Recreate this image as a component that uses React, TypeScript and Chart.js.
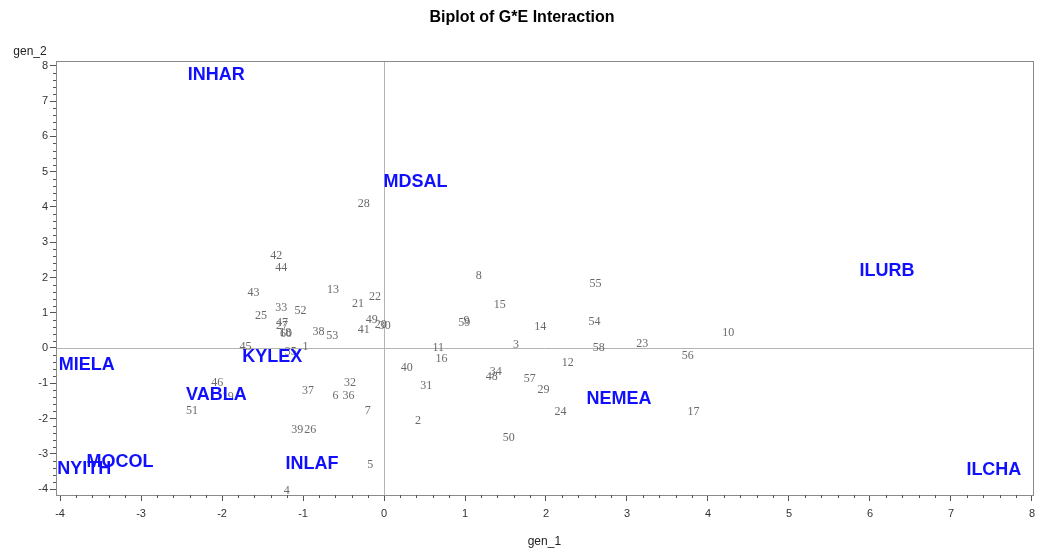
import React, { useEffect, useRef } from "react";
import { Chart, registerables } from "chart.js";

Chart.register(...registerables);

const GEN_LABELS = ["1","2","3","4","5","6","7","8","9","10","11","12","13","14","15","16","17","18","19","20","21","22","23","24","25","26","27","28","29","30","31","32","33","34","35","36","37","38","39","40","41","42","43","44","45","46","47","48","49","50","51","52","53","54","55","56","57","58","59","60"];
const GEN_X = [-0.97,0.42,1.63,-1.20,-0.17,-0.60,-0.20,1.17,1.02,4.25,0.67,2.27,-0.63,1.93,1.43,0.71,3.82,-1.22,-1.93,-0.04,-0.32,-0.11,3.19,2.18,-1.52,-0.91,-1.26,-0.25,1.97,0.01,0.52,-0.42,-1.27,1.38,-1.15,-0.44,-0.94,-0.81,-1.07,0.28,-0.25,-1.33,-1.61,-1.27,-1.71,-2.06,-1.26,1.33,-0.15,1.54,-2.37,-1.03,-0.64,2.60,2.61,3.75,1.80,2.65,0.99,-1.21];
const GEN_Y = [0.03,-2.07,0.09,-4.06,-3.32,-1.36,-1.79,2.04,0.77,0.43,0.00,-0.43,1.65,0.60,1.22,-0.31,-1.82,0.42,-1.39,0.65,1.25,1.45,0.11,-1.82,0.91,-2.33,0.62,4.09,-1.19,0.62,-1.08,-0.99,1.13,-0.68,-0.11,-1.36,-1.22,0.45,-2.33,-0.57,0.51,2.61,1.56,2.27,0.03,-0.99,0.71,-0.82,0.79,-2.55,-1.79,1.05,0.34,0.74,1.82,-0.23,-0.88,0.00,0.71,0.40];

const ENV_LABELS = ["INHAR","MDSAL","ILURB","MIELA","KYLEX","VABLA","NEMEA","MOCOL","NYITH","INLAF","ILCHA"];
const ENV_X = [-2.07,0.39,6.21,-3.67,-1.38,-2.07,2.90,-3.26,-3.70,-0.89,7.53];
const ENV_Y = [7.74,4.71,2.18,-0.48,-0.26,-1.33,-1.45,-3.23,-3.43,-3.29,-3.46];

const X_TICKS = [-4,-3,-2,-1,0,1,2,3,4,5,6,7,8];
const Y_TICKS = [-4,-3,-2,-1,0,1,2,3,4,5,6,7,8];

const TITLE = "Biplot of G*E Interaction";
const X_TITLE = "gen_1";
const Y_TITLE = "gen_2";

const W = 1041;
const H = 555;

const biplotPlugin = {
  id: "biplot",
  beforeDatasetsDraw(chart: any) {
    const { ctx, chartArea, scales } = chart;
    const x = scales.x, y = scales.y;
    ctx.save();
    ctx.strokeStyle = "#b4b4b4";
    ctx.lineWidth = 1;
    const x0 = Math.round(x.getPixelForValue(0)) + 0.5;
    const y0 = Math.round(y.getPixelForValue(0)) + 0.5;
    ctx.beginPath();
    ctx.moveTo(x0, chartArea.top);
    ctx.lineTo(x0, chartArea.bottom);
    ctx.moveTo(chartArea.left, y0);
    ctx.lineTo(chartArea.right, y0);
    ctx.stroke();
    ctx.restore();
  },
  afterDatasetsDraw(chart: any) {
    const { ctx, chartArea, scales } = chart;
    const x = scales.x, y = scales.y;
    ctx.save();
    ctx.strokeStyle = "#8a8a8a";
    ctx.lineWidth = 1;
    ctx.strokeRect(Math.round(chartArea.left) + 0.5, Math.round(chartArea.top) + 0.5,
      Math.round(chartArea.right - chartArea.left), Math.round(chartArea.bottom - chartArea.top));
    ctx.strokeStyle = "#555";
    ctx.beginPath();
    for (let i = 0; i < X_TICKS.length - 1; i++) {
      for (let k = 1; k < 5; k++) {
        const v = X_TICKS[i] + (X_TICKS[i + 1] - X_TICKS[i]) * k / 5;
        const px = Math.round(x.getPixelForValue(v)) + 0.5;
        ctx.moveTo(px, chartArea.bottom);
        ctx.lineTo(px, chartArea.bottom + 3);
      }
    }
    for (let i = 0; i < Y_TICKS.length - 1; i++) {
      for (let k = 1; k < 5; k++) {
        const v = Y_TICKS[i] + (Y_TICKS[i + 1] - Y_TICKS[i]) * k / 5;
        const py = Math.round(y.getPixelForValue(v)) + 0.5;
        ctx.moveTo(chartArea.left, py);
        ctx.lineTo(chartArea.left - 3, py);
      }
    }
    ctx.stroke();

    ctx.textAlign = "center";
    ctx.textBaseline = "middle";
    const genMeta = chart.getDatasetMeta(0);
    ctx.font = "12px 'Liberation Serif', serif";
    ctx.fillStyle = "#6a6a6a";
    genMeta.data.forEach((pt: any, i: number) => {
      ctx.fillText(GEN_LABELS[i], pt.x, pt.y);
    });
    const envMeta = chart.getDatasetMeta(1);
    ctx.font = "bold 18px 'Liberation Sans', Arial, sans-serif";
    ctx.fillStyle = "#1010ff";
    envMeta.data.forEach((pt: any, i: number) => {
      ctx.fillText(ENV_LABELS[i], pt.x, pt.y);
    });

    ctx.fillStyle = "#000";
    ctx.font = "bold 16px 'Liberation Sans', Arial, sans-serif";
    ctx.fillText(TITLE, 522, 18);
    ctx.fillStyle = "#222";
    ctx.font = "12px 'Liberation Sans', Arial, sans-serif";
    ctx.fillText(X_TITLE, (chartArea.left + chartArea.right) / 2, 542);
    ctx.fillText(Y_TITLE, 30, 52);
    ctx.restore();
  },
};

export default function App() {
  const ref = useRef<HTMLCanvasElement | null>(null);
  useEffect(() => {
    document.body.style.margin = "0";
    const canvas = ref.current!;
    const chart = new Chart(canvas, {
      type: "scatter",
      data: {
        datasets: [
          {
            label: "Genotypes",
            data: GEN_X.map((v, i) => ({ x: v, y: GEN_Y[i] })),
            pointRadius: 0,
            pointHoverRadius: 0,
          },
          {
            label: "Environments",
            data: ENV_X.map((v, i) => ({ x: v, y: ENV_Y[i] })),
            pointRadius: 0,
            pointHoverRadius: 0,
          },
        ],
      },
      options: {
        animation: false,
        responsive: false,
        events: [],
        layout: { padding: { top: 61, right: 4, left: 0, bottom: 0 } },
        plugins: {
          legend: { display: false },
          title: { display: false },
          tooltip: { enabled: false },
        },
        scales: {
          x: {
            type: "linear",
            min: -4.05,
            max: 8.01,
            afterBuildTicks: (s: any) => { s.ticks = X_TICKS.map((v) => ({ value: v })); },
            afterFit: (s: any) => { s.height = 60; },
            grid: { drawOnChartArea: false, tickLength: 6, color: "#555" },
            border: { display: true, color: "#8a8a8a" },
            ticks: {
              color: "#333",
              font: { family: "'Liberation Sans', Arial, sans-serif", size: 11 },
              padding: 6,
              maxRotation: 0,
              autoSkip: false,
            },
          },
          y: {
            type: "linear",
            min: -4.17,
            max: 8.14,
            afterBuildTicks: (s: any) => { s.ticks = Y_TICKS.map((v) => ({ value: v })); },
            afterFit: (s: any) => { s.width = 56; },
            grid: { drawOnChartArea: false, tickLength: 6, color: "#555" },
            border: { display: true, color: "#8a8a8a" },
            ticks: {
              color: "#333",
              font: { family: "'Liberation Sans', Arial, sans-serif", size: 11 },
              padding: 2,
              autoSkip: false,
            },
          },
        },
      },
      plugins: [biplotPlugin],
    });
    return () => chart.destroy();
  }, []);
  return (
    <div style={{ width: W, height: H }}>
      <canvas ref={ref} width={W} height={H} style={{ display: "block", width: W, height: H }} />
    </div>
  );
}
